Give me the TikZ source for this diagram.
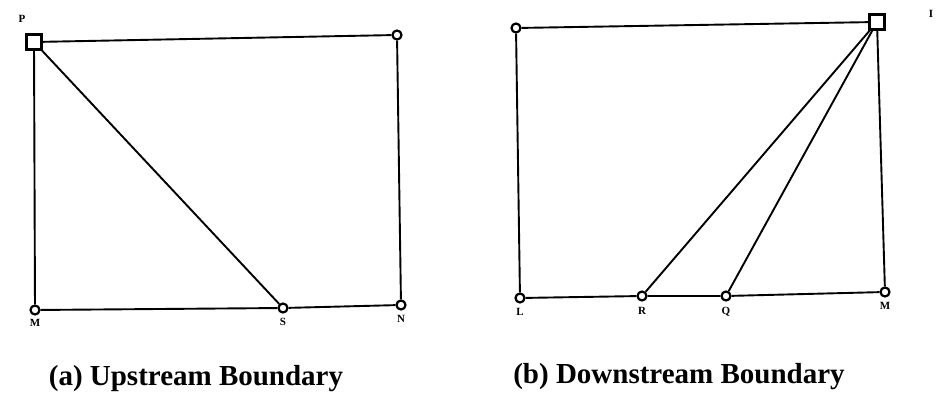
\documentclass[tikz,border=0pt]{standalone}
\usepackage{fontspec}
\setmainfont{Liberation Serif}
\usepackage{tikz}
\usetikzlibrary{positioning}

\begin{document}
\begin{tikzpicture}[x=1pt, y=-1pt,
    pt/.style={circle, draw, line width=2.2pt, fill=white, inner sep=0pt, minimum size=9pt},
    sq/.style={rectangle, draw, line width=2.4pt, fill=white, inner sep=0pt, minimum size=15pt},
    edge/.style={line width=1.9pt},
    tag/.style={font=\bfseries\fontsize{11}{11}\selectfont, inner sep=1pt},
    caption/.style={font=\bfseries\fontsize{29}{31}\selectfont}]
    \useasboundingbox (0,0) rectangle (937,412);

    % (a) upstream
    \node[sq] (P) at (34,42) {};
    \node[pt] (aTR) at (397,35) {};
    \node[pt] (aM) at (35,310) {};
    \node[pt] (aS) at (283,308) {};
    \node[pt] (aN) at (401,305) {};
    \draw[edge] (P) -- (aTR) -- (aN) -- (aS) -- (aM) -- (P);
    \draw[edge] (P) -- (aS);
    \node[tag] at (22,19) {P};
    \node[tag, below=2pt of aM] {M};
    \node[tag, below=3pt of aS] {S};
    \node[tag, below=3pt of aN] {N};

    % (b) downstream
    \node[pt] (bTL) at (516,28) {};
    \node[sq] (I) at (877,22) {};
    \node[pt] (bL) at (520,298) {};
    \node[pt] (bR) at (642,296) {};
    \node[pt] (bQ) at (726,296) {};
    \node[pt] (bM) at (885,292) {};
    \draw[edge] (bTL) -- (I) -- (bM) -- (bQ) -- (bR) -- (bL) -- (bTL);
    \draw[edge] (I) -- (bR);
    \draw[edge] (I) -- (bQ);
    \node[tag] at (931,14) {I};
    \node[tag, below=3pt of bL] {L};
    \node[tag, below=4pt of bR] {R};
    \node[tag, below=4pt of bQ] {Q};
    \node[tag, below=3pt of bM] {M};

    \node[caption] (capA) at (196,379) {(a) Upstream Boundary};
    \node[caption] (capB) at (679,377) {(b) Downstream Boundary};
\end{tikzpicture}
\end{document}
